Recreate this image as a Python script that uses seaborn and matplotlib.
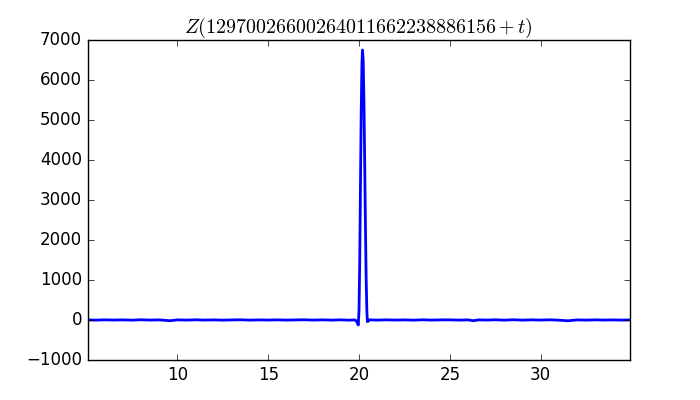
import matplotlib
matplotlib.use("Agg")
import matplotlib.pyplot as plt
import seaborn as sns
import pandas as pd

# t offsets and Z values
t_before = [5.05, 5.5, 6.0, 6.5, 7.0, 7.5, 8.0, 8.5, 9.0, 9.6, 10.0, 10.5, 11.0, 11.5,
            12.0, 12.5, 13.0, 13.5, 14.0, 14.5, 15.0, 15.5, 16.0, 16.5, 17.0, 17.5,
            18.0, 18.5, 19.0, 19.5, 19.75]
z_before = [2, -3, 4, -1, 3, -4, 6, -2, 3, -18, 4, -3, 5, -2, 3, -4, 2, 5, -3, 3,
            -2, 4, -3, 2, 5, -2, 4, -3, 4, -5, 3]

t_peak = [19.85, 19.92, 19.96, 20.0, 20.04, 20.08, 20.12, 20.16, 20.19, 20.23, 20.27,
          20.31, 20.35, 20.39, 20.43, 20.46, 20.5, 20.56, 20.65]
z_peak = [-20, -90, -125, 250, 1500, 3400, 5200, 6400, 6750, 6500, 5500, 4000, 2500,
          1100, 250, -40, -35, 2, 4]

t_after = [21.0, 21.5, 22.0, 22.5, 23.0, 23.5, 24.0, 24.5, 25.0, 25.5, 26.0, 26.3,
           26.6, 27.0, 27.5, 28.0, 28.5, 29.0, 29.5, 30.0, 30.5, 31.0, 31.5, 32.0,
           32.5, 33.0, 33.5, 34.0, 34.5, 34.92]
z_after = [-3, 4, -2, 3, -4, 5, -2, 3, 4, -3, 3, -18, 4, -2, 5, -3, 6, -3, 4, -2,
           5, -4, -20, 3, -3, 4, -2, 3, -3, 2]

title_text = r"$Z(12970026600264011662238886156+t)$"

df = pd.DataFrame({"t": t_before + t_peak + t_after,
                   "Z": z_before + z_peak + z_after})

plt.style.use("classic")
fig, ax = plt.subplots(figsize=(7, 4), dpi=100)
fig.patch.set_facecolor("white")
sns.lineplot(data=df, x="t", y="Z", ax=ax, color="b", linewidth=2,
             sort=False, estimator=None)
ax.set_xlim(5.05, 34.92)
ax.set_ylim(-1000, 7000)
ax.set_xlabel("")
ax.set_ylabel("")
ax.set_title(title_text)
fig.savefig("out.png", dpi=100, facecolor="white")
